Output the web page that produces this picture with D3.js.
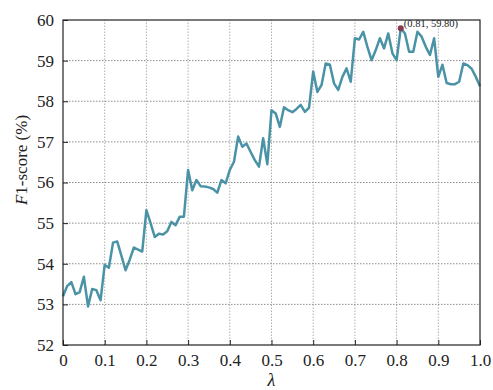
<!DOCTYPE html>
<html>
<head>
<meta charset="utf-8">
<script src="https://cdn.jsdelivr.net/npm/d3@7"></script>
<style>
  html, body { margin: 0; padding: 0; background: #fff; }
</style>
</head>
<body>
<svg id="chart" width="493" height="390"></svg>
<script>
// λ sweep from 0 to 1 in steps of 0.01
const lambdas = d3.range(0, 101).map(i => +(i / 100).toFixed(2));

// F1-score (%) at each λ
const f1Scores = [
  53.20, 53.45, 53.55, 53.25, 53.30, 53.68, 52.95, 53.38, 53.35, 53.10,
  53.97, 53.90, 54.52, 54.55, 54.20, 53.84, 54.10, 54.40, 54.35, 54.30,
  55.32, 55.00, 54.66, 54.74, 54.72, 54.80, 55.03, 54.95, 55.16, 55.16,
  56.31, 55.81, 56.06, 55.91, 55.90, 55.88, 55.84, 55.75, 56.06, 55.98,
  56.31, 56.51, 57.13, 56.88, 56.96, 56.75, 56.55, 56.39, 57.09, 56.45,
  57.78, 57.70, 57.37, 57.85, 57.78, 57.73, 57.81, 57.91, 57.74, 57.84,
  58.73, 58.23, 58.40, 58.93, 58.90, 58.44, 58.28, 58.60, 58.81, 58.48,
  59.55, 59.52, 59.71, 59.34, 59.01, 59.26, 59.55, 59.30, 59.67, 59.18,
  59.01, 59.80, 59.67, 59.22, 59.22, 59.71, 59.59, 59.34, 59.14, 59.55,
  58.60, 58.90, 58.45, 58.42, 58.42, 58.48, 58.93, 58.89, 58.80, 58.60,
  58.37
];

const xTicks = [0, 0.1, 0.2, 0.3, 0.4, 0.5, 0.6, 0.7, 0.8, 0.9, 1.0];
const xTickLabels = ["0", "0.1", "0.2", "0.3", "0.4", "0.5", "0.6", "0.7", "0.8", "0.9", "1.0"];
const yTicks = [52, 53, 54, 55, 56, 57, 58, 59, 60];

// best point, annotated on the curve
const bestLambda = 0.81;
const bestScore = 59.80;

const SERIF = '"Liberation Serif", "Times New Roman", Times, "DejaVu Serif", serif';

const margin = { left: 63, right: 13, top: 20, bottom: 45 };
const width = 493, height = 390;
const svg = d3.select("#chart");

const x = d3.scaleLinear().domain([0, 1]).range([margin.left, width - margin.right]);
const y = d3.scaleLinear().domain([52, 60]).range([height - margin.bottom, margin.top]);

// dotted grid
const grid = svg.append("g");
grid.selectAll("line.gx").data(xTicks.slice(1, -1)).join("line")
  .attr("x1", d => x(d)).attr("x2", d => x(d))
  .attr("y1", y(52)).attr("y2", y(60))
  .attr("stroke", "#b0b0b0").attr("stroke-width", 1).attr("stroke-dasharray", "1.5,1.5");
grid.selectAll("line.gy").data(yTicks.slice(1, -1)).join("line")
  .attr("x1", x(0)).attr("x2", x(1))
  .attr("y1", d => y(d)).attr("y2", d => y(d))
  .attr("stroke", "#8c8c8c").attr("stroke-width", 1).attr("stroke-dasharray", "1.5,1.5");

// curve
const line = d3.line()
  .x((d, i) => x(lambdas[i]))
  .y(d => y(d));
svg.append("path")
  .datum(f1Scores)
  .attr("d", line)
  .attr("fill", "none")
  .attr("stroke", "#4a93a6")
  .attr("stroke-width", 2.5)
  .attr("stroke-linejoin", "round");

// frame
svg.append("rect")
  .attr("x", x(0)).attr("y", y(60))
  .attr("width", x(1) - x(0)).attr("height", y(52) - y(60))
  .attr("fill", "none").attr("stroke", "#222").attr("stroke-width", 1.2);

// axes with inward ticks
const xAxis = svg.append("g")
  .attr("transform", `translate(0,${y(52)})`)
  .call(d3.axisBottom(x).tickValues(xTicks).tickFormat((d, i) => xTickLabels[i])
    .tickSizeInner(-5).tickSizeOuter(0).tickPadding(9));
xAxis.select(".domain").remove();
xAxis.selectAll(".tick line").attr("stroke", "#222");
xAxis.selectAll(".tick text")
  .style("font-family", SERIF).style("font-size", "17px").style("fill", "#222");

const yAxis = svg.append("g")
  .attr("transform", `translate(${x(0)},0)`)
  .call(d3.axisLeft(y).tickValues(yTicks).tickFormat(d3.format("d"))
    .tickSizeInner(-5).tickSizeOuter(0).tickPadding(9));
yAxis.select(".domain").remove();
yAxis.selectAll(".tick line").attr("stroke", "#222");
yAxis.selectAll(".tick text")
  .style("font-family", SERIF).style("font-size", "17px").style("fill", "#222");

// axis titles
svg.append("text")
  .attr("x", x(0.5)).attr("y", 386)
  .attr("text-anchor", "middle")
  .style("font-family", SERIF).style("font-size", "18px").style("font-style", "italic")
  .style("fill", "#222")
  .text("λ");

const yTitle = svg.append("text")
  .attr("transform", "translate(27,160) rotate(-90)")
  .attr("text-anchor", "middle")
  .style("font-family", SERIF).style("font-size", "17px").style("fill", "#222");
yTitle.append("tspan").style("font-style", "italic").text("F");
yTitle.append("tspan").text("1-score (%)");

// best-point marker and label
svg.append("circle")
  .attr("cx", x(bestLambda)).attr("cy", y(bestScore))
  .attr("r", 3).attr("fill", "#8a3a4c");
svg.append("text")
  .attr("x", x(bestLambda) + 3).attr("y", y(bestScore) - 1)
  .style("font-family", SERIF).style("font-size", "10.5px").style("fill", "#222")
  .text(`(${bestLambda.toFixed(2)}, ${bestScore.toFixed(2)})`);
</script>
</body>
</html>
